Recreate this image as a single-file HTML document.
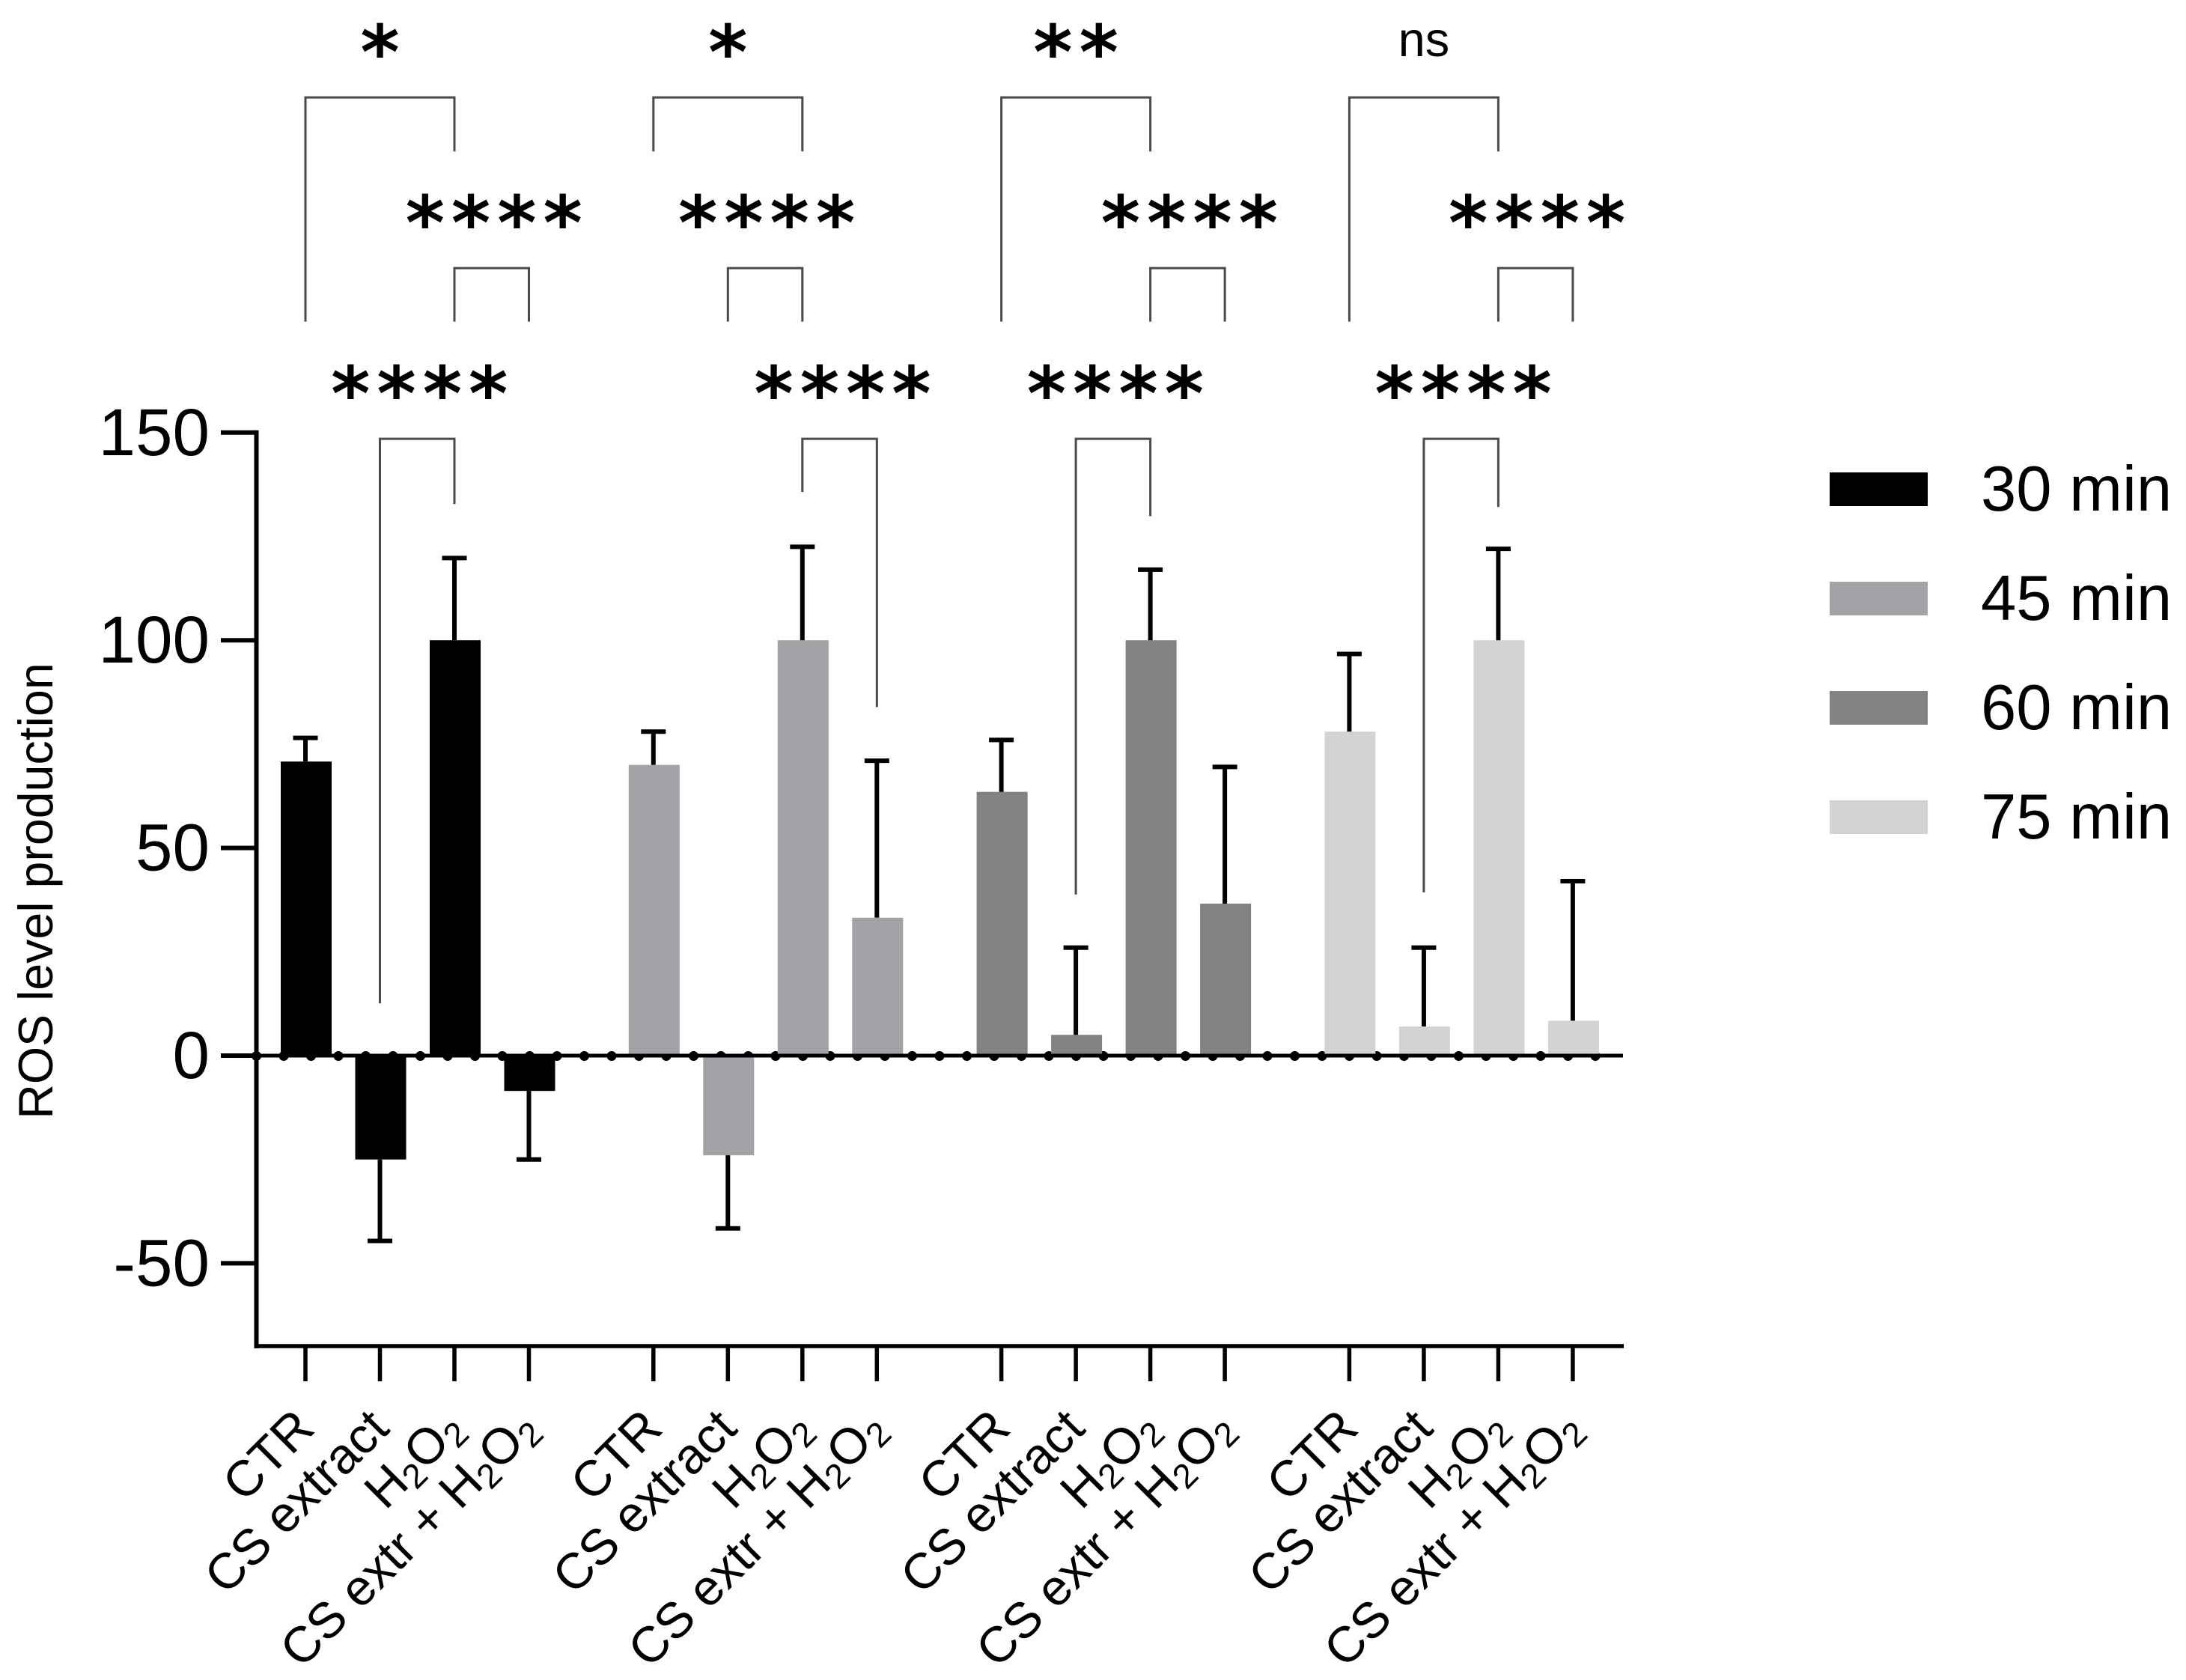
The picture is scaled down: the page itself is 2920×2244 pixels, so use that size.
<!DOCTYPE html>
<html lang="en">
<head>
<meta charset="utf-8">
<title>ROS level production</title>
<style>
html,body{margin:0;padding:0;background:#fff;}
svg{display:block;}
text{font-family:"Liberation Sans",Arial,sans-serif;fill:#000;}
.stars{font-family:"DejaVu Sans",sans-serif;font-weight:bold;}
</style>
</head>
<body>
<svg id="chart" xmlns="http://www.w3.org/2000/svg" width="2920" height="2244" viewBox="0 0 2920 2244">
<rect x="0" y="0" width="2920" height="2244" fill="#fff"/>
</svg>
<script>
// ---- data ----
const seriesNames = ['30 min', '45 min', '60 min', '75 min'];
const seriesColors = ['#000000', '#a3a3a7', '#828282', '#d3d3d3'];
const categories = ['CTR', 'CS extract', 'H2O2', 'CS extr + H2O2'];
const means30 = [70.8, -25, 100, -8.5];
const means45 = [70, -24, 100, 33.2];
const means60 = [63.5, 5, 100, 36.6];
const means75 = [78, 7, 100, 8.4];
const errors30 = [5.7, 19.6, 19.8, 16.5];
const errors45 = [8, 17.6, 22.5, 37.8];
const errors60 = [12.5, 21, 17, 32.9];
const errors75 = [18.7, 19, 22, 33.6];
const yTicks = [150, 100, 50, 0, -50];
const minorTickCount = 50;
// significance brackets: group, from category, to category, top value, left end value, right end value, label, label row value
const sigGroup = [0, 0, 0, 1, 1, 1, 2, 2, 2, 3, 3, 3];
const sigFrom = [0, 2, 1, 0, 1, 2, 0, 2, 1, 0, 2, 1];
const sigTo = [2, 3, 2, 2, 2, 3, 2, 3, 2, 2, 3, 2];
const sigTop = [230.7, 189.6, 148.5, 230.7, 189.6, 148.5, 230.7, 189.6, 148.5, 230.7, 189.6, 148.5];
const sigLeftEnd = [176.7, 176.7, 12.6, 217.7, 176.7, 135.7, 176.7, 176.7, 38.8, 176.7, 176.7, 39.3];
const sigRightEnd = [217.7, 176.7, 132.8, 217.7, 176.7, 83.9, 217.7, 176.7, 129.9, 217.7, 176.7, 132.1];
const sigLabels = ['*', '****', '****', '*', '****', '****', '**', '****', '****', 'ns', '****', '****'];
const sigLabelAt = [1, 2.53, 1.53, 1, 1.52, 2.54, 1, 2.525, 1.53, 1, 2.52, 1.53];

const allMeans = [means30, means45, means60, means75];
const allErrors = [errors30, errors45, errors60, errors75];

// ---- axis functions ----
const yScale = v => 1410 - 5.548 * v;
const xScale = (g, i) => 408 + 464.8 * g + 99.5 * i;
const minorX = k => 342.5 + 36.5 * k;

const svg = document.getElementById('chart');
const NS = 'http://www.w3.org/2000/svg';
function mk(tag, attrs, parent) {
  const el = document.createElementNS(NS, tag);
  for (const k in attrs) el.setAttribute(k, attrs[k]);
  (parent || svg).appendChild(el);
  return el;
}
function ln(x1, y1, x2, y2, w, color, parent) {
  return mk('line', {x1: x1, y1: y1, x2: x2, y2: y2, stroke: color || '#000', 'stroke-width': w}, parent);
}

// minor dots on the zero line (behind the bars)
for (let k = 0; k < minorTickCount; k++) {
  const dot = mk('circle', {cx: minorX(k), cy: yScale(0) + 0.5, r: 6.5, fill: '#000'});
  
  
}

// bars
allMeans.forEach((vals, g) => {
  vals.forEach((v, i) => {
    const top = Math.min(yScale(v), yScale(0));
    const h = Math.abs(yScale(v) - yScale(0));
    const bar = mk('rect', {x: xScale(g, i) - 33, y: top, width: 68, height: h, fill: seriesColors[g]});
    
    
  });
});

// zero line
const zeroLine = ln(295, yScale(0), 2168, yScale(0), 5);



// error bars
allMeans.forEach((vals, g) => {
  vals.forEach((v, i) => {
    const dir = v < 0 ? -1 : 1;
    const end = v + dir * allErrors[g][i];
    const x = xScale(g, i);
    const eb = mk('g', {});
    
    
    ln(x, yScale(v), x, yScale(end), 6, '#000', eb);
    ln(x - 16.5, yScale(end), x + 16.5, yScale(end), 6, '#000', eb);
  });
});

// y axis
const yAxis = ln(342.5, yScale(150) - 3, 342.5, 1801, 6);


yTicks.forEach(t => {
  const tick = ln(295, yScale(t), 342.5, yScale(t), 6);
  
  
  const label = mk('text', {x: 280, y: yScale(t) + 30, 'text-anchor': 'end', 'font-size': 89});
  label.textContent = String(t);
  
  
});
const yTitle = mk('text', {transform: 'translate(70,1190) rotate(-90)', 'text-anchor': 'middle', 'font-size': 64.5});
yTitle.textContent = 'ROS level production';



// x axis
const xAxis = ln(340, 1798, 2169, 1798, 5.5);



function addCategoryText(el, name) {
  const parts = name.split('H2O2');
  if (parts.length === 1) { el.textContent = name; return; }
  const t0 = mk('tspan', {}, el);
  t0.textContent = parts[0] + 'H';
  const s1 = mk('tspan', {dy: 10, 'font-size': 46}, el);
  s1.textContent = '2';
  const t1 = mk('tspan', {dy: -10}, el);
  t1.textContent = 'O';
  const s2 = mk('tspan', {dy: 10, 'font-size': 46}, el);
  s2.textContent = '2';
}
[0, 1, 2, 3].forEach(g => {
  categories.forEach((c, i) => {
    const x = xScale(g, i);
    const tick = ln(x, 1798, x, 1845, 5.5);
    
    
    const ax = x + 15;
    const label = mk('text', {transform: 'translate(' + ax + ',1911) rotate(-45)', 'text-anchor': 'end', 'font-size': 67});
    addCategoryText(label, c);
    
    
  });
});

// significance brackets
sigLabels.forEach((lab, n) => {
  const g = sigGroup[n];
  const x1 = xScale(g, sigFrom[n]);
  const x2 = xScale(g, sigTo[n]);
  const yt = yScale(sigTop[n]);
  const path = mk('path', {
    d: 'M' + x1 + ' ' + yScale(sigLeftEnd[n]) + 'V' + yt + 'H' + x2 + 'V' + yScale(sigRightEnd[n]),
    fill: 'none', stroke: '#4a4a4a', 'stroke-width': 3
  });
  
  
  const lx = xScale(g, sigLabelAt[n]);
  let t;
  if (lab === 'ns') {
    t = mk('text', {x: lx, y: yt - 55, 'text-anchor': 'middle', 'font-size': 65});
    
    
  } else {
    t = mk('text', {x: lx + 4.5, y: yt - 25, 'text-anchor': 'middle', 'font-size': 100, 'letter-spacing': 9, class: 'stars'});
    
    
  }
  t.textContent = lab;
});

// legend
const legendGroup = mk('g', {});


seriesNames.forEach((name, i) => {
  const entry = mk('g', {}, legendGroup);
  
  
  const base = 631 + i * 146;
  const sw = mk('rect', {x: 2444, y: base, width: 131, height: 45, fill: seriesColors[i]}, entry);
  
  
  const tx = mk('text', {x: 2646, y: base + 51, 'font-size': 85}, entry);
  tx.textContent = name;
  
  
});
</script>
</body>
</html>
